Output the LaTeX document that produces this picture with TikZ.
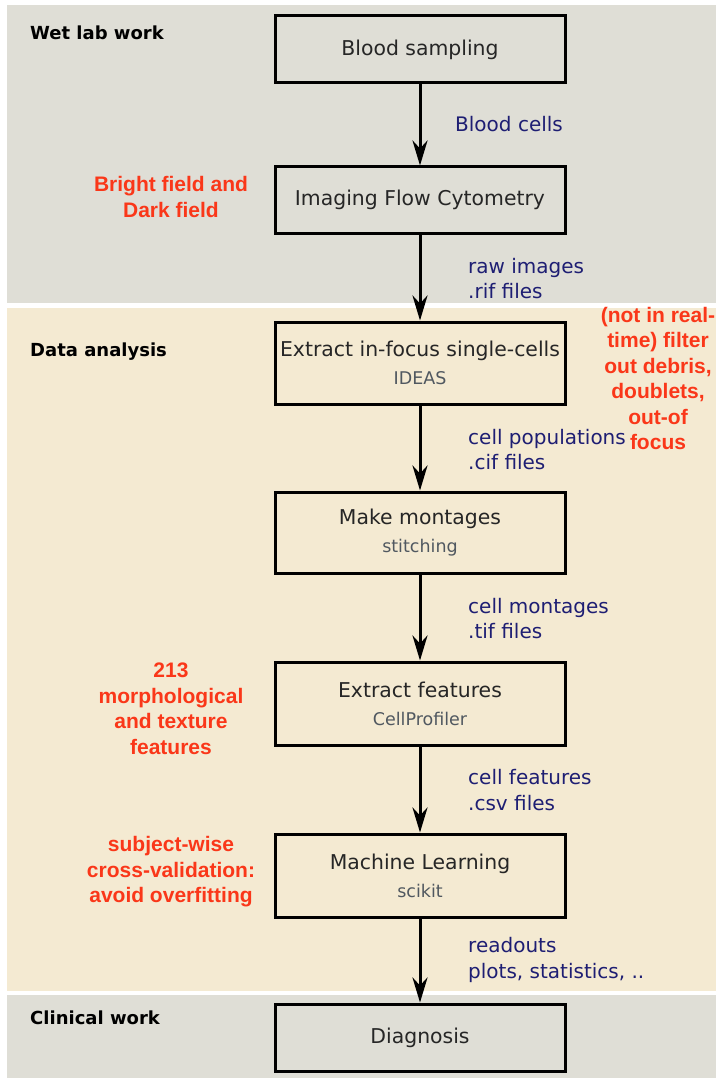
\documentclass[tikz,border=0pt]{standalone}
\usepackage{fontspec}
\setmainfont{DejaVu Sans}
\newfontfamily\redfont{Liberation Sans}
\usetikzlibrary{arrows.meta}
\definecolor{bandgray}{RGB}{223,222,214}
\definecolor{bandbeige}{RGB}{244,234,210}
\definecolor{navy}{RGB}{30,30,115}
\definecolor{notered}{RGB}{250,55,25}
\definecolor{subgray}{RGB}{80,88,96}
\newcommand{\subtxt}[1]{{\fontsize{17.5}{21}\selectfont\color{subgray}#1}}
\tikzset{
  stepbox/.style={draw=black, line width=3pt, minimum width=290pt, inner sep=0pt,
    align=center, font=\fontsize{20.4}{28}\selectfont, text=black!85},
  arr/.style={line width=3pt, -{Stealth[length=25pt,width=15pt,inset=8pt]}},
  flowlbl/.style={anchor=west, align=left, text=navy, inner sep=0pt,
    font=\fontsize{20}{25.5}\selectfont},
  note/.style={align=center, text=notered, inner sep=0pt,
    font=\redfont\bfseries\fontsize{21}{25.5}\selectfont},
  region/.style={anchor=west, inner sep=0pt, font=\bfseries\fontsize{18}{22}\selectfont}
}
\begin{document}
\begin{tikzpicture}[x=1pt,y=-1pt]
\useasboundingbox (0,0) rectangle (716,1078);
\fill[white] (0,0) rectangle (716,1078);
% bands
\fill[bandgray] (7,5) rectangle (716,303);
\fill[bandbeige] (7,308) rectangle (716,991);
\fill[bandgray] (7,995) rectangle (716,1078);
% region labels
\node[region] (r1) at (30,33) {Wet lab work};
\node[region] (r2) at (30,352) {Data analysis};
\node[region] (r3) at (30,1018) {Clinical work};
% boxes
\node[stepbox, minimum height=67pt] (b1) at (420,49.5) {Blood sampling};
\node[stepbox, minimum height=66pt] (b2) at (420,200) {Imaging Flow Cytometry};
\node[stepbox, minimum height=82pt] (b3) at (420,363) {Extract in-focus single-cells\\\subtxt{IDEAS}};
\node[stepbox, minimum height=81pt] (b4) at (420,532.5) {Make montages\\\subtxt{stitching}};
\node[stepbox, minimum height=83pt] (b5) at (420,703.5) {Extract features\\\subtxt{CellProfiler}};
\node[stepbox, minimum height=83pt] (b6) at (420,875.5) {Machine Learning\\\subtxt{scikit}};
\node[stepbox, minimum height=67pt] (b7) at (420,1037.5) {Diagnosis};
% arrows
\draw[arr] (b1) -- (b2);
\draw[arr] (b2) -- (b3);
\draw[arr] (b3) -- (b4);
\draw[arr] (b4) -- (b5);
\draw[arr] (b5) -- (b6);
\draw[arr] (b6) -- (b7);
% flow labels
\node[flowlbl] (l1) at (455,124) {Blood cells};
\node[flowlbl] (l2) at (468,278.5) {raw images\\.rif files};
\node[flowlbl] (l3) at (468,449.5) {cell populations\\.cif files};
\node[flowlbl] (l4) at (468,618.5) {cell montages\\.tif files};
\node[flowlbl] (l5) at (468,790) {cell features\\.csv files};
\node[flowlbl] (l6) at (468,960) {readouts\\plots, statistics, ..};
% notes
\node[note] (n1) at (171,197) {Bright field and\\Dark field};
\node[note] (n2) at (658,378.5) {(not in real-\\time) filter\\out debris,\\doublets,\\out-of\\focus};
\node[note] (n3) at (171,709) {213\\morphological\\and texture\\features};
\node[note] (n4) at (171,872) {subject-wise\\cross-validation:\\avoid overfitting};
\end{tikzpicture}
\end{document}
